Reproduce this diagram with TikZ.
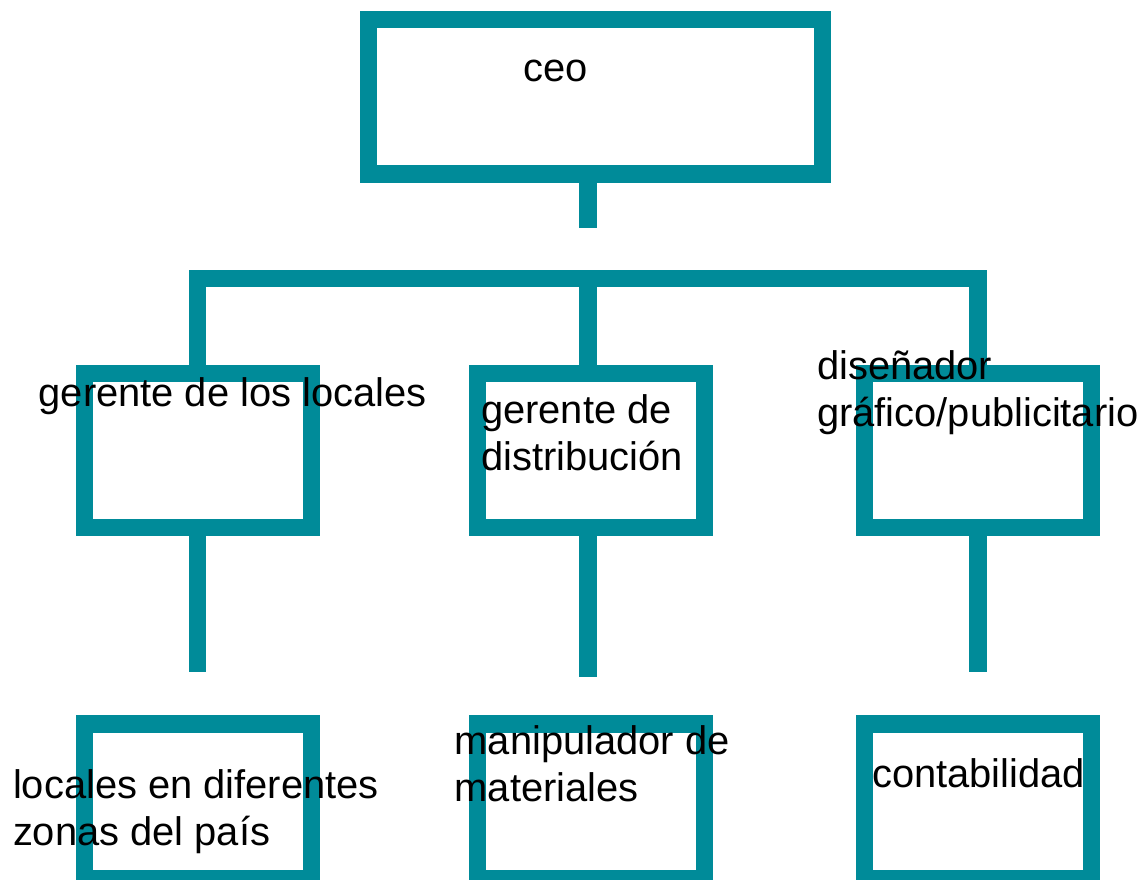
\documentclass[tikz,border=0pt]{standalone}
\usepackage{fontspec}
\setmainfont{Liberation Sans}
\usepackage{tikz}
\definecolor{orgteal}{RGB}{0,139,153}

\begin{document}
\begin{tikzpicture}[x=0.02cm, y=-0.02cm,
        box/.style={draw=orgteal, line width=0.348cm, rectangle, inner sep=0pt,
            minimum width=4.54cm, minimum height=3.09cm},
        link/.style={draw=orgteal, line width=0.348cm},
        lbl/.style={anchor=base west, inner sep=0pt, align=left,
            font=\fontsize{22.7}{26.6}\selectfont}]
        \useasboundingbox (0,0) rectangle (1148,879);

        \coordinate (ceo_c) at (595.4, 96.9);
        \coordinate (loc_c) at (197.9, 450.5);
        \coordinate (dist_c) at (591.2, 450.5);
        \coordinate (dis_c) at (977.8, 450.5);
        \coordinate (zonas_c) at (197.9, 801.3);
        \coordinate (manip_c) at (591.2, 801.3);
        \coordinate (cont_c) at (977.8, 801.3);

        \coordinate (ceo_end) at (588, 227.7);
        \coordinate (bar) at (588, 278.7);
        \coordinate (loc_end) at (197.7, 671.7);
        \coordinate (dist_end) at (588, 677.3);
        \coordinate (dis_end) at (978, 671.7);

        \node[box, minimum width=9.084cm, minimum height=3.086cm] (ceo) at (ceo_c) {};
        \node[box] (loc) at (loc_c) {};
        \node[box] (dist) at (dist_c) {};
        \node[box] (dis) at (dis_c) {};
        \node[box] (zonas) at (zonas_c) {};
        \node[box] (manip) at (manip_c) {};
        \node[box] (cont) at (cont_c) {};

        \draw[link] (ceo.south -| ceo_end) -- (ceo_end);
        \draw[link] (loc.north -| loc_end) |- (bar) -| (dis.north -| dis_end);
        \draw[link] (bar) -- (dist.north -| bar);
        \draw[link] (loc.south -| loc_end) -- (loc_end);
        \draw[link] (dist.south -| dist_end) -- (dist_end);
        \draw[link] (dis.south -| dis_end) -- (dis_end);

        % base anchor of a two-line label sits on its last line
        \node[lbl] (ceo_t) at (522.7, 81) {ceo};
        \node[lbl] (loc_t) at (38.3, 406.7) {gerente de los locales};
        \node[lbl] (dist_t) at (480.7, 470) {gerente de\\distribución};
        \node[lbl] (dis_t) at (816.7, 426.7) {diseñador\\gráfico/publicitario};
        \node[lbl] (zonas_t) at (12.7, 845.7) {locales en diferentes\\zonas del país};
        \node[lbl] (manip_t) at (454.3, 801.7) {manipulador de\\materiales};
        \node[lbl] (cont_t) at (871.7, 787.7) {contabilidad};

    \end{tikzpicture}
\end{document}
